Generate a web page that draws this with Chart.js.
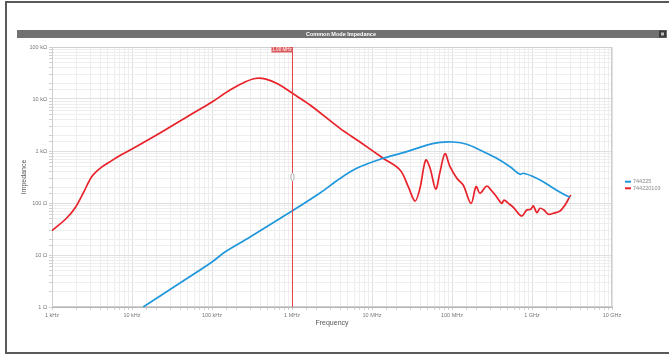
<!DOCTYPE html>
<html>
<head>
<meta charset="utf-8">
<script src="https://cdn.jsdelivr.net/npm/chart.js@4"></script>
<style>
  html, body { margin: 0; padding: 0; background: #fff; overflow: hidden; }
  canvas { display: block; }
</style>
</head>
<body>
<canvas id="c" width="669" height="356"></canvas>
<script>
// Series names shown in the legend
const seriesNames = ['744225', '744220103'];

// 744225: frequency (Hz) and common mode impedance (Ohm)
const freq744225 = [13800, 39800, 100000, 145000, 299000, 1.0e6, 2.24e6, 3.98e6, 6.44e6, 1.38e7,
  2.72e7, 4.83e7, 7.08e7, 1.04e8, 1.53e8, 2.24e8, 3.62e8, 5.31e8, 7.08e8, 7.79e8,
  1.04e9, 1.38e9, 1.85e9, 2.46e9, 2.99e9];
const imp744225 = [1.0, 2.89, 7.33, 11.4, 22.2, 70.2, 156, 296, 465, 724,
  970, 1300, 1470, 1490, 1350, 1045, 724, 499, 356, 373,
  321, 257, 192, 149, 129];

// 744220103: frequency (Hz) and common mode impedance (Ohm)
const freq744220103 = [1000, 1527, 1939, 2462, 3133, 3981, 5309, 7079, 10000, 22390,
  53090, 100000, 167900, 258600, 344700, 459700, 668300, 1.0e6, 1.68e6, 3.98e6,
  7.08e6, 1.38e7, 2.24e7, 2.84e7, 3.45e7, 3.98e7, 4.69e7, 5.31e7, 6.26e7, 7.08e7,
  8.18e7, 9.44e7, 1.15e8, 1.38e8, 1.73e8, 2.0e8, 2.24e8, 2.72e8, 3.13e8, 3.55e8,
  4.18e8, 4.47e8, 5.06e8, 5.84e8, 7.43e8, 8.59e8, 9.63e8, 1.04e9, 1.15e9, 1.26e9,
  1.41e9, 1.6e9, 1.85e9, 2.24e9, 2.59e9, 2.99e9, 3.05e9];
const imp744220103 = [29.3, 51.5, 80.1, 156, 321, 465, 623, 819, 1092, 2218,
  4924, 8750, 14900, 21200, 24800, 24300, 19400, 13000, 7670, 2730,
  1490, 724, 431, 206, 109, 194, 671, 471, 186, 395,
  887, 499, 299, 222, 98.6, 206, 154, 212, 172, 136,
  98.6, 114, 98.6, 82.7, 56.2, 73.3, 75.6, 87.5, 65.1, 79.1,
  73.3, 60.6, 63.4, 70.2, 91.5, 136, 142];

// Decade tick labels
const freqTickLabels = ['1 kHz', '10 kHz', '100 kHz', '1 MHz', '10 MHz', '100 MHz', '1 GHz', '10 GHz'];
const impTickLabels = ['1 Ω', '10 Ω', '100 Ω', '1 kΩ', '10 kΩ', '100 kΩ'];

// Cursor position and its label
const cursorFreq = 1e6;
const cursorLabel = '1.00 MHz';
const chartTitle = 'Common Mode Impedance';

const FONT = "'Liberation Sans', Arial, sans-serif";
const BLUE = '#1f97dc';
const RED = '#e8222a';

function toPoints(xs, ys) { return xs.map((x, i) => ({ x: x, y: ys[i] })); }
function decadeIndex(v, base) {
  const e = Math.log10(v);
  const r = Math.round(e);
  return Math.abs(e - r) < 1e-6 ? r - base : -1;
}

const decor = {
  id: 'decor',
  beforeDraw(chart) {
    const c = chart.ctx;
    c.save();
    c.fillStyle = '#fff';
    c.fillRect(0, 0, chart.width, chart.height);
    // outer panel frame
    c.strokeStyle = '#5a5a5a';
    c.lineWidth = 2;
    c.beginPath();
    c.moveTo(chart.width + 2, 2);
    c.lineTo(6, 2);
    c.lineTo(6, 353);
    c.lineTo(chart.width + 2, 353);
    c.stroke();
    // title bar
    c.fillStyle = '#717171';
    c.fillRect(17, 30, 650, 8);
    c.fillStyle = '#fff';
    c.font = 'bold 5.5px ' + FONT;
    c.textAlign = 'center';
    c.textBaseline = 'middle';
    c.fillText(chartTitle, 341, 34.3);
    c.fillStyle = '#3c3c3c';
    c.fillRect(659, 30.5, 7, 7);
    c.fillStyle = '#bdbdbd';
    c.fillRect(661, 32.5, 3, 3);
    c.restore();
  },
  beforeDatasetsDraw(chart) {
    const a = chart.chartArea, c = chart.ctx;
    c.save();
    c.strokeStyle = '#cfcfcf';
    c.lineWidth = 1;
    c.strokeRect(a.left + 0.5, a.top + 0.5, a.right - a.left - 1, a.bottom - a.top - 1);
    c.restore();
  },
  afterDatasetsDraw(chart) {
    const a = chart.chartArea, c = chart.ctx;
    const x = Math.round(chart.scales.x.getPixelForValue(cursorFreq)) + 0.5;
    c.save();
    c.strokeStyle = '#e0464b';
    c.lineWidth = 1;
    c.beginPath();
    c.moveTo(x, a.top);
    c.lineTo(x, a.bottom);
    c.stroke();
    // cursor label
    c.fillStyle = '#dc5a5e';
    c.fillRect(x - 21, a.top, 21, 5.5);
    c.fillStyle = '#fff';
    c.font = '4.5px ' + FONT;
    c.textAlign = 'center';
    c.textBaseline = 'middle';
    c.fillText(cursorLabel, x - 10.5, a.top + 2.9);
    // drag handle
    c.strokeStyle = '#9a9a9a';
    c.lineWidth = 0.8;
    c.beginPath();
    c.ellipse(x, (a.top + a.bottom) / 2, 1.6, 4, 0, 0, Math.PI * 2);
    c.fillStyle = '#fff';
    c.fill();
    c.stroke();
    c.restore();
  },
  afterDraw(chart) {
    const c = chart.ctx;
    c.save();
    c.font = '5.5px ' + FONT;
    c.textBaseline = 'middle';
    c.textAlign = 'left';
    const ys = [181.7, 188.3];
    chart.data.datasets.forEach((ds, i) => {
      c.strokeStyle = ds.borderColor;
      c.lineWidth = 2;
      c.beginPath();
      c.moveTo(625, ys[i]);
      c.lineTo(631, ys[i]);
      c.stroke();
      c.fillStyle = '#888';
      c.fillText(ds.label, 633, ys[i]);
    });
    c.restore();
  }
};

function gridColor(ctx) {
  if (!ctx.tick) return '#e6e6e6';
  const e = Math.log10(ctx.tick.value);
  return Math.abs(e - Math.round(e)) < 1e-6 ? '#e0e0e0' : '#eeeeee';
}

new Chart(document.getElementById('c'), {
  type: 'line',
  data: {
    datasets: [
      {
        label: seriesNames[0],
        data: toPoints(freq744225, imp744225),
        borderColor: BLUE,
        borderWidth: 1.7,
        pointRadius: 0,
        tension: 0.35,
        fill: false
      },
      {
        label: seriesNames[1],
        data: toPoints(freq744220103, imp744220103),
        borderColor: RED,
        borderWidth: 1.7,
        pointRadius: 0,
        tension: 0.35,
        fill: false
      }
    ]
  },
  options: {
    responsive: false,
    devicePixelRatio: 1,
    animation: false,
    events: [],
    layout: { padding: { left: 0, top: 47, right: 57, bottom: 29 } },
    plugins: { legend: { display: false }, tooltip: { enabled: false }, title: { display: false } },
    scales: {
      x: {
        type: 'logarithmic',
        position: 'bottom',
        min: 1e3,
        max: 1e10,
        afterFit(s) { s.height = 20; },
        border: { color: '#b5b5b5' },
        grid: { color: gridColor, tickLength: 3, tickColor: '#d0d0d0' },
        ticks: {
          autoSkip: false, maxRotation: 0, minRotation: 0, padding: 2,
          color: '#777', font: { family: FONT, size: 5.5 },
          callback(v) { const i = decadeIndex(v, 3); return i >= 0 ? freqTickLabels[i] : ''; }
        },
        title: { display: true, text: 'Frequency', color: '#555', font: { family: FONT, size: 7 }, padding: 0 }
      },
      y: {
        type: 'logarithmic',
        position: 'left',
        min: 1,
        max: 1e5,
        afterFit(s) { s.width = 52; },
        border: { color: '#b5b5b5' },
        grid: { color: gridColor, tickLength: 3, tickColor: '#d0d0d0' },
        ticks: {
          autoSkip: false, padding: 2,
          color: '#777', font: { family: FONT, size: 5.5 },
          callback(v) { const i = decadeIndex(v, 0); return i >= 0 ? impTickLabels[i] : ''; }
        },
        title: { display: true, text: 'Impedance', color: '#555', font: { family: FONT, size: 7 }, padding: { top: 20, bottom: 0 } }
      }
    }
  },
  plugins: [decor]
});
</script>
</body>
</html>
